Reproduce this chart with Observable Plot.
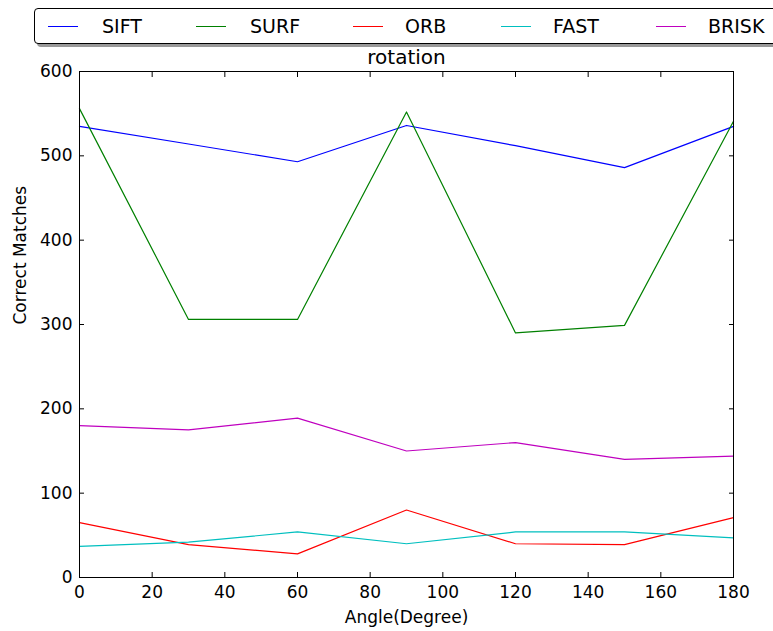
<!DOCTYPE html>
<html>
<head>
<meta charset="utf-8">
<script src="https://cdn.jsdelivr.net/npm/d3@7"></script>
<script src="https://cdn.jsdelivr.net/npm/@observablehq/plot@0.6"></script>
<style>
  html, body { margin: 0; padding: 0; background: #fff; }
  #wrap { position: relative; width: 773px; height: 631px; overflow: hidden; font-family: "DejaVu Sans", sans-serif; }
  #legend { position: absolute; left: 34px; top: 8px; width: 760px; height: 34px; border: 1px solid #000; border-radius: 4px; background: #fff; box-shadow: 3px 3px 0 #999; }
  .item { position: absolute; top: 0; height: 34px; line-height: 34px; font-size: 19px; color: #000; }
  .swatch { position: absolute; top: 17px; width: 30px; height: 0; border-top: 1px solid; }
</style>
</head>
<body>
<div id="wrap"><div id="chart"></div><div id="legend"></div></div>
<script>
const angles = [0, 30, 60, 90, 120, 150, 180];
const seriesNames = ["SIFT", "SURF", "ORB", "FAST", "BRISK"];
const seriesColors = ["#0000ff", "#008000", "#ff0000", "#00bfbf", "#bf00bf"];
const sift  = [535, 514, 493, 536, 512, 486, 535];
const surf  = [556, 306, 306, 552, 290, 299, 541];
const orb   = [65, 39, 28, 80, 40, 39, 71];
const fast  = [37, 42, 54, 40, 54, 54, 47];
const brisk = [180, 175, 189, 150, 160, 140, 144];
const xTicks = [0, 20, 40, 60, 80, 100, 120, 140, 160, 180];
const yTicks = [0, 100, 200, 300, 400, 500, 600];
const titleText = "rotation";
const xLabel = "Angle(Degree)";
const yLabel = "Correct Matches";

const valuesBySeries = [sift, surf, orb, fast, brisk];
const data = [];
seriesNames.forEach((name, i) => {
  angles.forEach((a, j) => data.push({series: name, angle: a, value: valuesBySeries[i][j]}));
});

const chart = Plot.plot({
  width: 773,
  height: 631,
  marginLeft: 79,
  marginRight: 40,
  marginTop: 71,
  marginBottom: 54,
  style: {fontFamily: "DejaVu Sans, sans-serif", fontSize: "17px", color: "#000", background: "#fff"},
  x: {domain: [0, 180]},
  y: {domain: [0, 600]},
  color: {domain: seriesNames, range: seriesColors},
  marks: [
    Plot.line(data, {x: "angle", y: "value", z: "series", stroke: "series", strokeWidth: 1.2}),
    Plot.frame({stroke: "#000", strokeWidth: 1}),
    Plot.axisX({anchor: "bottom", ticks: xTicks, tickSize: -5, tickPadding: 13, label: null}),
    Plot.axisX({anchor: "top", ticks: xTicks, tickSize: -5, tickFormat: () => "", label: null}),
    Plot.axisY({anchor: "left", ticks: yTicks, tickSize: -5, tickPadding: 12, label: null}),
    Plot.axisY({anchor: "right", ticks: yTicks, tickSize: -5, tickFormat: () => "", label: null}),
    Plot.text([xLabel], {frameAnchor: "bottom", lineAnchor: "middle", dy: 40, fontSize: 17}),
    Plot.text([yLabel], {frameAnchor: "left", dx: -59, rotate: -90, fontSize: 17}),
    Plot.text([titleText], {frameAnchor: "top", lineAnchor: "middle", dy: -14, fontSize: 20})
  ]
});
document.getElementById("chart").appendChild(chart);

const legendPos = [[13, 67], [161, 215], [318, 370], [466, 518], [621, 673]];
const legend = document.getElementById("legend");
seriesNames.forEach((name, i) => {
  const sw = document.createElement("div");
  sw.className = "swatch";
  sw.style.left = legendPos[i][0] + "px";
  sw.style.borderTopColor = seriesColors[i];
  legend.appendChild(sw);
  const t = document.createElement("div");
  t.className = "item";
  t.style.left = legendPos[i][1] + "px";
  t.textContent = name;
  legend.appendChild(t);
});
</script>
</body>
</html>
